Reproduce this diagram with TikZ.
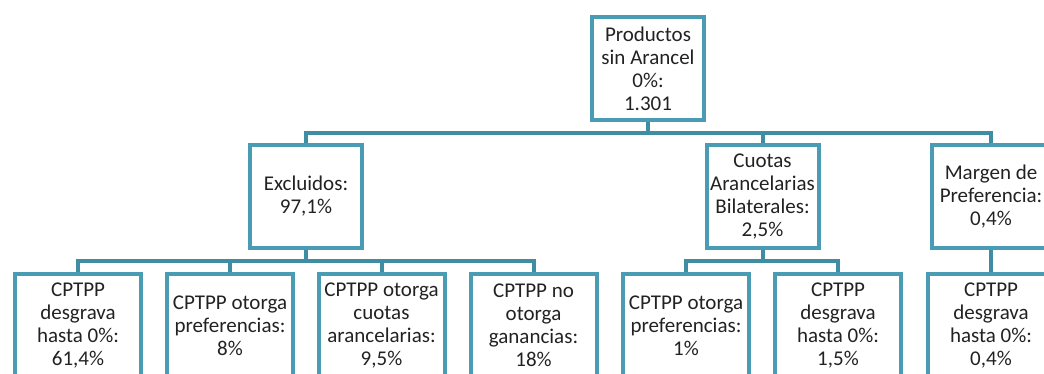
\documentclass[tikz,border=0pt]{standalone}
\usepackage{fontspec}
\setmainfont{Carlito}
\definecolor{boxteal}{HTML}{4A9CB4}
\definecolor{linkteal}{HTML}{3F8DA3}
\definecolor{txtgray}{HTML}{222222}
\tikzset{
    box/.style={draw=boxteal, line width=4pt, minimum width=112pt, minimum height=103pt,
        inner sep=1pt, align=center, text=txtgray, font=\fontsize{21}{23}\selectfont},
    leaf/.style={box, minimum width=126pt},
    link/.style={draw=linkteal, line width=4pt},
}
\begin{document}
\begin{tikzpicture}[x=1pt, y=1pt]
        \useasboundingbox (0,0) rectangle (1044,-373);

        \node[box] (root) at (648,-68.5) {Productos\\ sin Arancel\\ 0\%:\\ 1.301};

        \node[box] (excl) at (306,-196.5) {Excluidos:\\ 97,1\%};
        \node[box] (cuot) at (762.5,-196.5) {Cuotas\\ Arancelarias\\ Bilaterales:\\ 2,5\%};
        \node[box, minimum width=118pt] (marg) at (991,-196.5) {Margen de\\ Preferencia:\\ 0,4\%};

        \node[leaf] (excla) at (78,-325.5) {CPTPP\\ desgrava\\ hasta 0\%:\\ 61,4\%};
        \node[leaf] (exclb) at (230,-325.5) {CPTPP otorga\\ preferencias:\\ 8\%};
        \node[leaf] (exclc) at (381.5,-325.5) {CPTPP otorga\\ cuotas\\ arancelarias:\\ 9,5\%};
        \node[leaf] (excld) at (533.5,-325.5) {CPTPP no\\ otorga\\ ganancias:\\ 18\%};
        \node[leaf] (cuota) at (686,-325.5) {CPTPP otorga\\ preferencias:\\ 1\%};
        \node[leaf] (cuotb) at (838,-325.5) {CPTPP\\ desgrava\\ hasta 0\%:\\ 1,5\%};
        \node[leaf] (marga) at (991,-325.5) {CPTPP\\ desgrava\\ hasta 0\%:\\ 0,4\%};

        % level 1 to level 2
        \draw[link] (root.south) -- ++(0,-11) -| (excl.north);
        \draw[link] (root.south) -- ++(0,-11) -| (cuot.north);
        \draw[link] (root.south) -- ++(0,-11) -| (marg.north);

        % level 2 to level 3
        \draw[link] (excl.south) -- ++(0,-11) -| (excla.north);
        \draw[link] (excl.south) -- ++(0,-11) -| (exclb.north);
        \draw[link] (excl.south) -- ++(0,-11) -| (exclc.north);
        \draw[link] (excl.south) -- ++(0,-11) -| (excld.north);
        \draw[link] (cuot.south) -- ++(0,-11) -| (cuota.north);
        \draw[link] (cuot.south) -- ++(0,-11) -| (cuotb.north);
        \draw[link] (marg.south) -- (marga.north);
    \end{tikzpicture}
\end{document}
